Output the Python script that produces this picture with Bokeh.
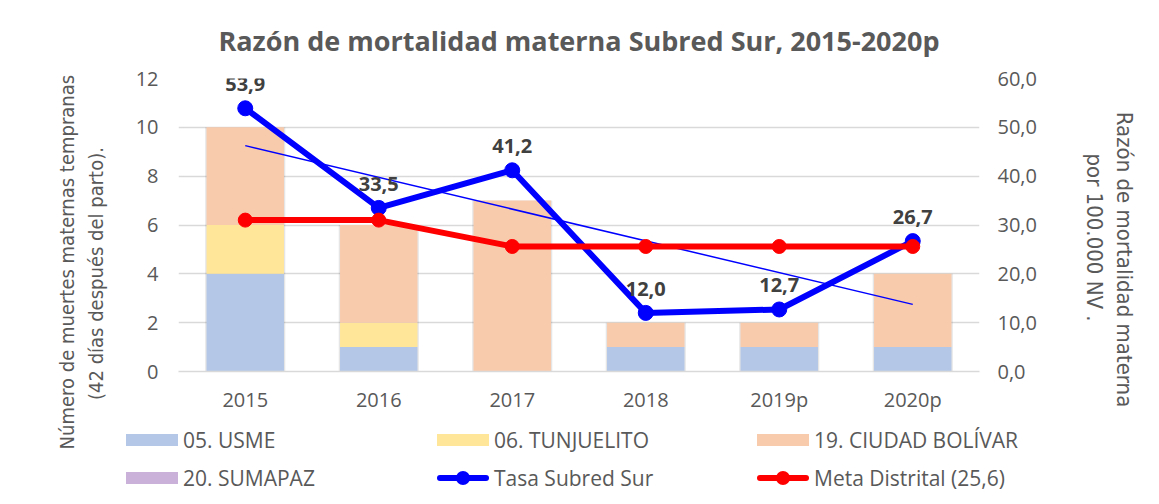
import numpy as np
from bokeh.plotting import figure
from bokeh.layouts import column
from bokeh.models import (Range1d, LinearAxis, ColumnDataSource, Div,
                          LabelSet, FactorRange, CustomJSTickFormatter)
from bokeh.core.properties import value
from bokeh.embed import file_html
from bokeh.resources import INLINE

years = ["2015", "2016", "2017", "2018", "2019p", "2020p"]
usme = [4, 1, 0, 1, 1, 1]
tunjuelito = [2, 1, 0, 0, 0, 0]
ciudad_bolivar = [4, 4, 7, 1, 1, 3]
sumapaz = [0, 0, 0, 0, 0, 0]
tasa = [53.9, 33.5, 41.2, 12.0, 12.7, 26.7]
meta = [31.0, 31.0, 25.6, 25.6, 25.6, 25.6]
tasa_labels = ["53,9", "33,5", "41,2", "12,0", "12,7", "26,7"]
left_ticks = [0, 2, 4, 6, 8, 10, 12]
right_ticks = [0, 10, 20, 30, 40, 50, 60]
legend_labels = ["05. USME", "06. TUNJUELITO", "19. CIUDAD BOLÍVAR",
                 "20. SUMAPAZ", "Tasa Subred Sur", "Meta Distrital (25,6)"]

C_USME, C_TUNJ, C_CB, C_SUM = "#b4c7e7", "#ffe699", "#f8cbad", "#c9b1d9"
C_TASA, C_META = "#0000ff", "#ff0000"
TXT = "#595959"
FONT = "Open Sans"
NARROW = "'DejaVu Sans Condensed', Roboto"
W, H, LEG_H = 1159, 500, 89
NB = "\u00a0"

p = figure(x_range=FactorRange(*years), y_range=Range1d(0, 12),
           width=W, height=H, output_backend="svg", toolbar_location=None,
           min_border_left=178, min_border_right=W - 979, min_border_top=78,
           min_border_bottom=H - 371)
p.extra_y_ranges = {"right": Range1d(0, 60)}

src = ColumnDataSource(dict(years=years, usme=usme, tunj=tunjuelito, cb=ciudad_bolivar,
                            sum=sumapaz, tasa=tasa, meta=meta, lab=tasa_labels))

# bar shadows
tot = [a + b + c + d for a, b, c, d in zip(usme, tunjuelito, ciudad_bolivar, sumapaz)]
shadow = ColumnDataSource(dict(years=years, top=tot))
p.vbar(x="years", top="top", width=0.60, source=shadow, fill_color="#000000",
       fill_alpha=0.10, line_color=None)

p.vbar_stack(["usme", "tunj", "cb", "sum"], x="years", width=0.58, source=src,
             color=[C_USME, C_TUNJ, C_CB, C_SUM], line_color=None)

# trend line (linear regression of tasa)
xi = np.arange(len(years))
slope, intercept = np.polyfit(xi, tasa, 1)
trend = ColumnDataSource(dict(x=[years[0], years[-1]],
                              y=[intercept, intercept + slope * xi[-1]]))
p.line("x", "y", source=trend, line_color=C_TASA, line_width=1.5, y_range_name="right")

p.line("years", "tasa", source=src, line_color=C_TASA, line_width=6,
       y_range_name="right", line_join="round")
p.scatter("years", "tasa", source=src, size=15, color=C_TASA, y_range_name="right")
p.line("years", "meta", source=src, line_color=C_META, line_width=6,
       y_range_name="right", line_join="round")
p.scatter("years", "meta", source=src, size=14, color=C_META, y_range_name="right")

labels = LabelSet(x="years", y="tasa", text="lab", source=src, y_range_name="right",
                  y_offset=17, text_align="center", text_baseline="bottom",
                  text_font=value(FONT), text_font_size="20px", text_font_style="bold",
                  text_color="#404040")
p.add_layout(labels)

# axes
p.xaxis.axis_line_color = "#d9d9d9"
p.xaxis.axis_line_width = 1.5
p.xaxis.major_tick_line_color = None
p.xaxis.minor_tick_line_color = None
p.xaxis.major_label_text_font = FONT
p.xaxis.major_label_text_font_size = "20px"
p.xaxis.major_label_text_color = TXT
p.xaxis.major_label_standoff = 8

p.yaxis.ticker = left_ticks
p.yaxis.axis_line_color = None
p.yaxis.major_tick_line_color = None
p.yaxis.minor_tick_line_color = None
p.yaxis.major_label_text_font = FONT
p.yaxis.major_label_text_font_size = "20px"
p.yaxis.major_label_text_color = TXT
p.yaxis.major_label_standoff = 14
p.yaxis.axis_label = ("Número de muertes maternas tempranas" + NB * 13 + "\n"
                      + "(42 días después del parto)." + NB * 17)
p.yaxis.axis_label_text_font = NARROW
p.yaxis.axis_label_text_font_size = "20px"
p.yaxis.axis_label_text_font_style = "normal"
p.yaxis.axis_label_text_color = TXT
p.yaxis.axis_label_standoff = 25

ax_r = LinearAxis(y_range_name="right", ticker=right_ticks,
                  formatter=CustomJSTickFormatter(code="return tick.toFixed(1).replace('.', ',');"))
ax_r.axis_line_color = None
ax_r.major_tick_line_color = None
ax_r.minor_tick_line_color = None
ax_r.major_label_text_font = FONT
ax_r.major_label_text_font_size = "20px"
ax_r.major_label_text_color = TXT
ax_r.major_label_standoff = 12
ax_r.axis_label = (NB * 11 + "Razón de mortalidad materna" + "\n"
                   + NB * 4 + "por 100.000 NV .")
ax_r.axis_label_text_font = NARROW
ax_r.axis_label_text_font_size = "22px"
ax_r.axis_label_text_font_style = "normal"
ax_r.axis_label_text_color = TXT
ax_r.axis_label_standoff = 42
p.add_layout(ax_r, "right")

p.xgrid.grid_line_color = None
p.ygrid.grid_line_color = "#d9d9d9"
p.ygrid.grid_line_width = 1.5
p.outline_line_color = None

p.title.text = "Razón de mortalidad materna Subred Sur, 2015-2020p"
p.title.align = "center"
p.title.text_font = FONT
p.title.text_font_size = "27px"
p.title.text_font_style = "bold"
p.title.text_color = TXT
p.title.standoff = 39

# legend (HTML, overlaid on the bottom strip of the chart)
swatches = [("box", C_USME), ("box", C_TUNJ), ("box", C_CB),
            ("box", C_SUM), ("line", C_TASA), ("line", C_META)]
col_x = [126, 437, 757]
row_y = [25, 63]
parts = []
for i, (lab, (kind, col)) in enumerate(zip(legend_labels, swatches)):
    x = col_x[i % 3]
    y = row_y[i // 3]
    if kind == "box":
        parts.append(f'<div style="position:absolute;left:{x}px;top:{y - 6}px;width:52px;'
                     f'height:12px;background:{col};"></div>')
    else:
        parts.append(f'<div style="position:absolute;left:{x}px;top:{y - 3}px;width:52px;'
                     f'height:6px;background:{col};border-radius:3px;"></div>')
        parts.append(f'<div style="position:absolute;left:{x + 19}px;top:{y - 7}px;width:14px;'
                     f'height:14px;background:{col};border-radius:50%;"></div>')
    parts.append(f'<div style="position:absolute;left:{x + 57}px;top:{y - 15}px;'
                 f'line-height:30px;white-space:nowrap;">{lab}</div>')
html = (f'<div style="position:relative;width:{W}px;height:{LEG_H}px;font-family:\'Open Sans\';'
        f'font-size:21px;color:{TXT};">' + "".join(parts) + "</div>")
top_gap = 415 - H
leg = Div(text=html, width=W, height=LEG_H, margin=(top_gap, 0, 0, 0))

layout = column(p, leg, spacing=0)
open("out.html", "w").write(file_html(layout, INLINE))
